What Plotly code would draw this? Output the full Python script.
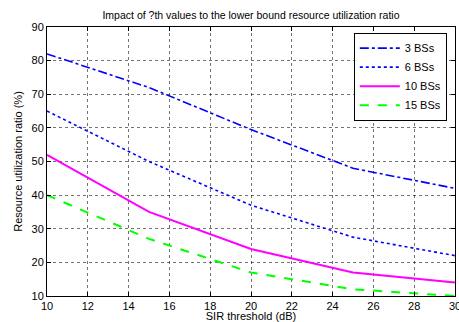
import plotly.graph_objects as go

sir_threshold = [10, 15, 20, 25, 30]
bs3 = [82, 72, 59.5, 48, 42]
bs6 = [65, 50, 37, 27.5, 22]
bs10 = [52, 35, 24, 17, 14]
bs15 = [40, 27, 17, 12, 10]

x_ticks = list(range(10, 31, 2))
y_ticks = list(range(10, 91, 10))

series = [
    ("3 BSs", bs3, "rgb(0,0,255)", "dashdot", 1.6),
    ("6 BSs", bs6, "rgb(0,0,255)", "dot", 1.6),
    ("10 BSs", bs10, "rgb(255,0,255)", "solid", 2),
    ("15 BSs", bs15, "rgb(0,255,0)", "dash", 2),
]

fig = go.Figure()
for name, vals, color, dash, w in series:
    fig.add_trace(go.Scatter(x=sir_threshold, y=vals, mode="lines", name=name,
                             line=dict(color=color, dash=dash, width=w)))

font = "Liberation Sans, Arial, sans-serif"
axis_common = dict(
    showline=True, linecolor="black", linewidth=1, mirror="ticks",
    ticks="inside", ticklen=4, tickcolor="black",
    showgrid=True, gridcolor="rgba(0,0,0,0.55)", griddash="dot", gridwidth=1,
    zeroline=False, tickfont=dict(family=font, size=11, color="black"),
    automargin=False, ticklabeloverflow="allow",
)

fig.update_layout(
    width=459, height=322,
    margin=dict(l=47, r=4, t=27, b=26),
    paper_bgcolor="white", plot_bgcolor="white",
    title=dict(text="Impact of ?th values to the lower bound resource utilization ratio",
               font=dict(family=font, size=10.5, color="black"),
               x=(47 + 455) / 2 / 459, xanchor="center",
               y=1 - 15 / 322, yanchor="middle", yref="container"),
    xaxis=dict(range=[10, 30], tickvals=x_ticks, **axis_common,
               title=dict(text="SIR threshold (dB)", standoff=6,
                          font=dict(family=font, size=11, color="black"))),
    yaxis=dict(range=[10, 90], tickvals=y_ticks, **axis_common,
               title=dict(text="Resource utilization ratio (%)", standoff=6,
                          font=dict(family=font, size=11, color="black"))),
    legend=dict(x=0.752, y=0.979, xanchor="left", yanchor="top",
                bordercolor="black", borderwidth=1, bgcolor="white",
                font=dict(family=font, size=11, color="black"),
                itemwidth=40, tracegroupgap=0),
    showlegend=True,
)

fig.write_html("out.html", config={"displayModeBar": False},
               post_script="document.body.style.margin='0';")
